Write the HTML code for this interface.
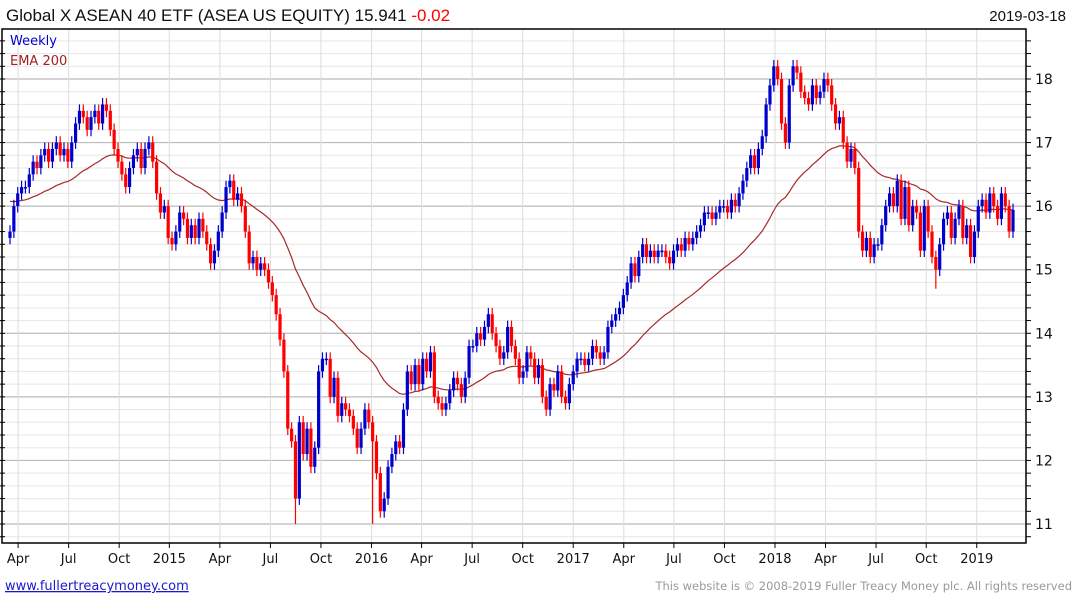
<!DOCTYPE html>
<html><head><meta charset="utf-8"><style>
body{margin:0;background:#fff;font-family:"Liberation Sans",sans-serif;}
svg{display:block}
</style></head><body>
<svg id="chart" width="1075" height="600">
<text x="6" y="21" font-size="17" fill="#111">Global X ASEAN 40 ETF (ASEA US EQUITY) 15.941 <tspan fill="#ff0000">-0.02</tspan></text>
<text x="1066" y="21" font-size="15" fill="#111" text-anchor="end">2019-03-18</text>
<g id="grid"></g>
<g id="ema"></g>
<g id="candles"></g>
<rect x="2" y="29" width="1024" height="514" fill="none" stroke="#000" stroke-width="1.5"/>
<g id="axes" font-family="DejaVu Sans, sans-serif"></g>
<text x="10" y="45" font-size="13" font-family="DejaVu Sans, sans-serif" fill="#0000cc">Weekly</text>
<text x="10" y="65" font-size="13" font-family="DejaVu Sans, sans-serif" fill="#a02020">EMA 200</text>
<text x="5" y="590" font-size="13" font-family="DejaVu Sans, sans-serif" fill="#1a1acc" text-decoration="underline">www.fullertreacymoney.com</text>
<text x="1072" y="590" font-size="11.5" font-family="DejaVu Sans, sans-serif" fill="#999" text-anchor="end">This website is © 2008-2019 Fuller Treacy Money plc. All rights reserved</text>
</svg>
<script>
const closes=[15.6,16.0,16.2,16.3,
16.3,16.5,16.7,16.6,16.8,16.9,16.7,16.9,17.0,16.8,16.9,16.7,17.0,
17.3,17.5,17.4,17.2,17.4,17.5,17.3,17.6,17.5,17.2,16.9,16.7,16.5,
16.3,16.6,16.8,16.9,16.6,16.9,17.0,16.7,16.2,15.9,16.0,15.5,15.4,
15.6,15.9,15.8,15.5,15.7,15.5,15.8,15.6,15.4,15.1,15.3,15.6,15.9,
16.3,16.4,16.1,16.2,16.0,15.6,15.1,15.2,15.0,15.1,15.0,14.8,14.6,
14.3,13.9,13.4,12.5,12.3,11.4,12.6,12.1,12.5,11.9,12.2,13.4,13.6,
13.6,13.0,13.3,12.7,12.9,12.8,12.7,12.5,12.2,12.5,12.8,12.6,12.3,
11.8,11.2,11.4,11.9,12.1,12.3,12.2,12.8,13.4,13.2,13.5,13.2,13.6,
13.4,13.7,13.0,12.9,12.8,12.9,13.1,13.3,13.2,13.0,13.3,13.8,13.8,
14.0,13.9,14.1,14.3,14.0,13.8,13.6,13.7,14.1,13.8,13.6,13.3,13.4,
13.7,13.6,13.3,13.5,13.0,12.8,13.2,13.1,13.4,13.0,12.9,13.2,13.4,
13.6,13.6,13.5,13.6,13.8,13.7,13.6,13.7,14.1,14.2,14.3,14.4,14.6,
14.8,15.1,14.9,15.2,15.4,15.2,15.3,15.2,15.3,15.3,15.2,15.1,15.3,
15.4,15.3,15.5,15.4,15.5,15.6,15.7,15.9,15.9,15.8,15.9,16.0,16.0,
15.9,16.1,16.0,16.2,16.4,16.6,16.8,16.6,16.9,17.1,17.6,17.9,18.2,
18.0,17.3,17.0,17.9,18.2,18.1,17.8,17.7,17.6,17.9,17.7,17.8,18.0,
17.9,17.6,17.3,17.4,17.0,16.7,16.9,16.6,15.6,15.3,15.5,15.2,15.4,
15.4,15.7,16.0,16.2,16.0,16.4,15.8,16.3,15.7,16.0,15.9,15.3,16.0,
15.6,15.2,15.0,15.4,15.8,15.9,15.5,15.8,16.0,15.5,15.7,15.2,15.6,
16.0,16.1,15.9,16.2,16.0,15.8,16.2,16.0,15.6,15.94];
const firstOpen=15.5;
const spikeIdx=[74,94,240];
const spikeLow=[11.0,11.0,14.7];
const yTicks=[11,12,13,14,15,16,17,18];
const xLabels=["Apr","Jul","Oct","2015","Apr","Jul","Oct","2016","Apr","Jul","Oct","2017","Apr","Jul","Oct","2018","Apr","Jul","Oct","2019"];
const xLabelWeek=[2.1,15.2,28.3,41.3,54.4,67.5,80.6,93.7,106.7,119.8,132.9,146.0,159.1,172.1,185.2,198.3,211.4,224.5,237.5,250.6];
const emaSeed=16.1, emaPeriod=40;

const NS="http://www.w3.org/2000/svg";
const N=closes.length;
const xS=i=>10+i*(1013-10)/(N-1);
const yS=v=>79+(18-v)*(524-79)/7;
function mk(tag,attrs,parent){const e=document.createElementNS(NS,tag);for(const k in attrs)e.setAttribute(k,attrs[k]);parent.appendChild(e);return e;}
const grid=document.getElementById('grid'),axes=document.getElementById('axes');
for(let v=10.6;v<=18.8;v+=0.2){const y=yS(v);if(y<30||y>542)continue;const major=Math.abs(v-Math.round(v))<0.01;
 const l=mk('line',{x1:2,x2:1026,y1:y,y2:y,stroke:major?'#bbb':'#e6e6e6','stroke-width':major?1.2:1},grid);
 
 
 const t=mk('line',{x1:1026,x2:1031,y1:y,y2:y,stroke:'#000'},axes);
 
 
 const t2=mk('line',{x1:0,x2:5,y1:y,y2:y,stroke:'#000'},axes);
 
 }
yTicks.forEach(v=>{const t=mk('text',{x:1035,y:yS(v)+5,'font-size':14,fill:'#111'},axes);t.textContent=v;
 
 });
xLabels.forEach((s,k)=>{const x=xS(xLabelWeek[k]);
 const g=mk('line',{x1:x,x2:x,y1:29,y2:543,stroke:'#ddd'},grid);
 
 
 const tk=mk('line',{x1:x,x2:x,y1:543,y2:548,stroke:'#000'},axes);
 
 
 const t=mk('text',{x:x,y:563,'font-size':13,fill:'#111','text-anchor':'middle'},axes);t.textContent=s;
 
 });
let e=emaSeed,a=2/(emaPeriod+1),pts=[];
closes.forEach((c,i)=>{e=e+a*(c-e);pts.push(xS(i).toFixed(1)+','+yS(e).toFixed(1));});
const pl=mk('polyline',{points:pts.join(' '),fill:'none',stroke:'#a52a2a','stroke-width':1.2},document.getElementById('ema'));


const cg=document.getElementById('candles');
closes.forEach((c,i)=>{const o=i?closes[i-1]:firstOpen;const up=c>=o;const col=up?'#0000cc':'#ff0000';
 let hi=Math.max(o,c)+0.1,lo=Math.min(o,c)-0.1;const si=spikeIdx.indexOf(i);if(si>=0)lo=spikeLow[si];
 const x=xS(i);
 const w=mk('line',{x1:x,x2:x,y1:yS(hi),y2:yS(lo),stroke:col,'stroke-width':1.2},cg);
 
 
 const top=yS(Math.max(o,c)),h=Math.max(1.5,yS(Math.min(o,c))-top);
 const b=mk('rect',{x:x-1.6,y:top,width:3.2,height:h,fill:col},cg);
 
 });
</script>
</body></html>
